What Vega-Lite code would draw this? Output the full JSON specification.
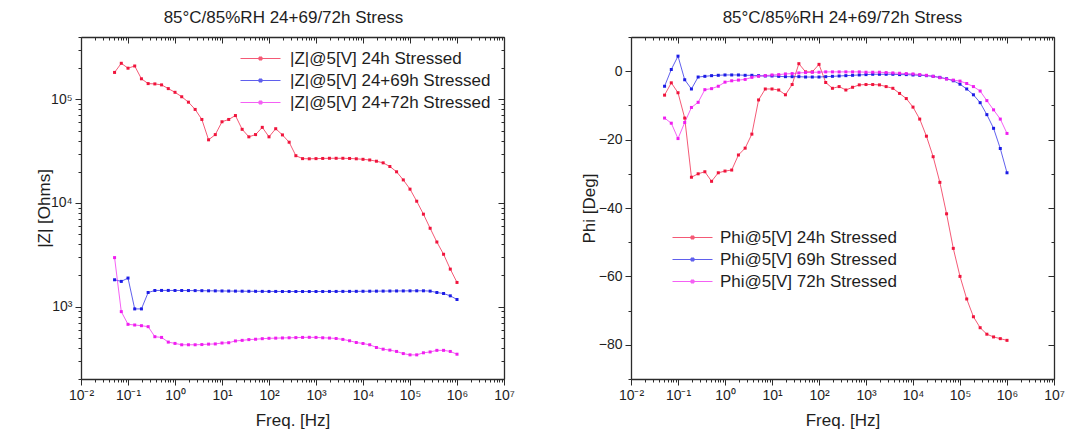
{
  "$schema": "https://vega.github.io/schema/vega-lite/v6.json",
  "padding": {"left": 35, "top": 9, "right": 4, "bottom": 2},
  "spacing": 65,
  "config": {
    "font": "Liberation Sans",
    "view": {"stroke": null},
    "axis": {
      "domainColor": "#2b2b2b", "domainWidth": 1.3,
      "tickColor": "#2b2b2b", "tickWidth": 1,
      "labelFont": "Liberation Sans", "labelFontSize": 14, "labelColor": "#1e1e1e", "labelPadding": 3,
      "titleFont": "Liberation Sans", "titleFontSize": 17, "titleFontWeight": "normal", "titleColor": "#1e1e1e",
      "grid": false, "labelOverlap": false, "labelFlush": false, "labelBound": false
    },
    "title": {"font": "Liberation Sans", "fontSize": 17, "fontWeight": "normal", "color": "#1e1e1e", "offset": 3, "frame": "group"},
    "legend": {"labelFont": "Liberation Sans", "labelFontSize": 17, "labelColor": "#1e1e1e", "labelLimit": 400}
  },
  "datasets": {
    "eis": [
      {"f":0.05179,"zr":182000,"zb":1815,"zm":2970,"pr":-7.0,"pb":-4.4,"pm":-13.7},
      {"f":0.07197,"zr":223000,"zb":1750,"zm":894,"pr":-3.4,"pb":0.5,"pm":-15.2},
      {"f":0.1,"zr":200000,"zb":1885,"zm":674,"pr":-6.3,"pb":4.4,"pm":-19.7},
      {"f":0.1389,"zr":210000,"zb":950,"zm":664,"pr":-13.7,"pb":-2.5,"pm":-15.0},
      {"f":0.1931,"zr":158000,"zb":950,"zm":654,"pr":-31.0,"pb":-5.2,"pm":-10.6},
      {"f":0.2683,"zr":142000,"zb":1367,"zm":640,"pr":-30.0,"pb":-1.7,"pm":-9.1},
      {"f":0.3728,"zr":141000,"zb":1430,"zm":512,"pr":-29.4,"pb":-1.5,"pm":-5.4},
      {"f":0.5179,"zr":138000,"zb":1432,"zm":504,"pr":-32.2,"pb":-1.3,"pm":-5.1},
      {"f":0.7197,"zr":127000,"zb":1432,"zm":454,"pr":-29.7,"pb":-1.2,"pm":-4.4},
      {"f":1,"zr":117000,"zb":1430,"zm":441,"pr":-29.2,"pb":-1.1,"pm":-3.2},
      {"f":1.389,"zr":106000,"zb":1430,"zm":428,"pr":-28.9,"pb":-1.1,"pm":-2.8},
      {"f":1.931,"zr":94000,"zb":1428,"zm":428,"pr":-24.5,"pb":-1.1,"pm":-2.6},
      {"f":2.683,"zr":80000,"zb":1426,"zm":428,"pr":-22.5,"pb":-1.2,"pm":-2.4},
      {"f":3.728,"zr":64000,"zb":1424,"zm":430,"pr":-18.4,"pb":-1.2,"pm":-1.8},
      {"f":5.179,"zr":40700,"zb":1420,"zm":434,"pr":-8.4,"pb":-1.3,"pm":-1.5},
      {"f":7.197,"zr":45700,"zb":1418,"zm":436,"pr":-5.2,"pb":-1.4,"pm":-1.3},
      {"f":10,"zr":60800,"zb":1415,"zm":445,"pr":-5.2,"pb":-1.4,"pm":-1.1},
      {"f":13.89,"zr":64000,"zb":1412,"zm":448,"pr":-5.5,"pb":-1.5,"pm":-1.0},
      {"f":19.31,"zr":69800,"zb":1410,"zm":466,"pr":-6.9,"pb":-1.6,"pm":-0.8},
      {"f":26.83,"zr":51400,"zb":1408,"zm":472,"pr":-3.9,"pb":-1.6,"pm":-0.7},
      {"f":37.28,"zr":43500,"zb":1405,"zm":480,"pr":2.2,"pb":-1.6,"pm":-0.5},
      {"f":51.79,"zr":45700,"zb":1403,"zm":484,"pr":-0.2,"pb":-1.7,"pm":-0.4},
      {"f":71.97,"zr":53700,"zb":1402,"zm":490,"pr":-0.2,"pb":-1.7,"pm":-0.3},
      {"f":100,"zr":43500,"zb":1400,"zm":494,"pr":2.0,"pb":-1.7,"pm":-0.3},
      {"f":138.9,"zr":52100,"zb":1400,"zm":496,"pr":-3.3,"pb":-1.6,"pm":-0.2},
      {"f":193.1,"zr":45400,"zb":1399,"zm":498,"pr":-5.0,"pb":-1.5,"pm":-0.2},
      {"f":268.3,"zr":38600,"zb":1398,"zm":500,"pr":-4.5,"pb":-1.4,"pm":-0.2},
      {"f":372.8,"zr":28600,"zb":1398,"zm":502,"pr":-5.5,"pb":-1.3,"pm":-0.2},
      {"f":517.9,"zr":26800,"zb":1398,"zm":504,"pr":-4.7,"pb":-1.2,"pm":-0.2},
      {"f":719.7,"zr":26700,"zb":1398,"zm":505,"pr":-4.0,"pb":-1.1,"pm":-0.2},
      {"f":1000,"zr":26800,"zb":1398,"zm":504,"pr":-3.9,"pb":-1.0,"pm":-0.3},
      {"f":1389,"zr":26900,"zb":1399,"zm":500,"pr":-3.9,"pb":-0.9,"pm":-0.3},
      {"f":1931,"zr":27000,"zb":1400,"zm":497,"pr":-4.0,"pb":-0.9,"pm":-0.3},
      {"f":2683,"zr":27000,"zb":1400,"zm":492,"pr":-4.5,"pb":-0.9,"pm":-0.4},
      {"f":3728,"zr":27000,"zb":1401,"zm":482,"pr":-5.0,"pb":-0.9,"pm":-0.5},
      {"f":5179,"zr":26900,"zb":1402,"zm":468,"pr":-6.5,"pb":-1.0,"pm":-0.6},
      {"f":7197,"zr":26700,"zb":1403,"zm":450,"pr":-8.0,"pb":-1.0,"pm":-0.7},
      {"f":10000,"zr":26400,"zb":1405,"zm":440,"pr":-10.5,"pb":-1.1,"pm":-0.8},
      {"f":13895,"zr":26000,"zb":1407,"zm":428,"pr":-14.0,"pb":-1.2,"pm":-1.0},
      {"f":19307,"zr":25300,"zb":1409,"zm":403,"pr":-19.0,"pb":-1.3,"pm":-1.2},
      {"f":26827,"zr":24400,"zb":1411,"zm":388,"pr":-25.0,"pb":-1.5,"pm":-1.5},
      {"f":37276,"zr":22500,"zb":1413,"zm":380,"pr":-32.5,"pb":-1.8,"pm":-1.9},
      {"f":51795,"zr":20000,"zb":1415,"zm":369,"pr":-41.7,"pb":-2.2,"pm":-2.3},
      {"f":71969,"zr":16700,"zb":1416,"zm":352,"pr":-51.8,"pb":-2.8,"pm":-2.6},
      {"f":100000,"zr":13600,"zb":1418,"zm":342,"pr":-60.0,"pb":-3.8,"pm":-2.9},
      {"f":138950,"zr":10400,"zb":1420,"zm":342,"pr":-66.6,"pb":-5.2,"pm":-3.6},
      {"f":193070,"zr":7800,"zb":1420,"zm":358,"pr":-71.8,"pb":-6.9,"pm":-4.5},
      {"f":268270,"zr":5700,"zb":1410,"zm":365,"pr":-75.0,"pb":-9.2,"pm":-5.8},
      {"f":372760,"zr":4200,"zb":1368,"zm":378,"pr":-76.9,"pb":-12.7,"pm":-8.6},
      {"f":517950,"zr":3200,"zb":1337,"zm":378,"pr":-77.7,"pb":-16.7,"pm":-11.3},
      {"f":719690,"zr":2300,"zb":1270,"zm":369,"pr":-78.2,"pb":-22.6,"pm":-14.0},
      {"f":1000000,"zr":1710,"zb":1170,"zm":347,"pr":-78.7,"pb":-29.7,"pm":-18.2}
    ]
  },
  "resolve": {
    "scale": {"x": "independent", "y": "independent", "color": "independent"},
    "legend": {"color": "independent"}
  },
  "hconcat": [
    {
      "width": 423,
      "height": 342,
      "title": {"text": "85°C/85%RH 24+69/72h Stress", "dx": -9},
      "data": {"name": "eis"},
      "transform": [{"fold": ["zr", "zb", "zm"], "as": ["s", "v"]}],
      "layer": [
        {
          "mark": {"type": "line", "strokeWidth": 1, "opacity": 0.7},
          "encoding": {
            "x": {
              "field": "f", "type": "quantitative",
              "scale": {"type": "log", "domain": [0.01, 10000000], "nice": false},
              "axis": {
                "orient": "bottom", "title": "Freq. [Hz]", "titlePadding": 10,
                "values": [0.01,0.02,0.03,0.04,0.05,0.06,0.07,0.08,0.09,0.1,0.2,0.3,0.4,0.5,0.6,0.7,0.8,0.9,1,2,3,4,5,6,7,8,9,10,20,30,40,50,60,70,80,90,100,200,300,400,500,600,700,800,900,1000,2000,3000,4000,5000,6000,7000,8000,9000,10000,20000,30000,40000,50000,60000,70000,80000,90000,100000,200000,300000,400000,500000,600000,700000,800000,900000,1000000,2000000,3000000,4000000,5000000,6000000,7000000,8000000,9000000,10000000],
                "labelExpr": "abs(log(datum.value)/LN10-round(log(datum.value)/LN10))<0.001 ? ['10⁻²','10⁻¹','10⁰','10¹','10²','10³','10⁴','10⁵','10⁶','10⁷'][round(log(datum.value)/LN10)+2] : ''",
                "tickSize": {"condition": {"test": "abs(log(datum.value)/LN10-round(log(datum.value)/LN10))<0.001", "value": 6}, "value": 3}
              }
            },
            "y": {
              "field": "v", "type": "quantitative",
              "scale": {"type": "log", "domain": [200, 400000], "nice": false},
              "axis": {
                "orient": "left", "title": "|Z| [Ohms]", "titlePadding": -3,
                "values": [200,300,400,500,600,700,800,900,1000,2000,3000,4000,5000,6000,7000,8000,9000,10000,20000,30000,40000,50000,60000,70000,80000,90000,100000,200000,300000,400000],
                "labelExpr": "abs(log(datum.value)/LN10-round(log(datum.value)/LN10))<0.001 ? ['10³','10⁴','10⁵'][round(log(datum.value)/LN10)-3] : ''",
                "tickSize": {"condition": {"test": "abs(log(datum.value)/LN10-round(log(datum.value)/LN10))<0.001", "value": 6}, "value": 3}
              }
            },
            "color": {
              "field": "s", "type": "nominal",
              "scale": {"domain": ["zr", "zb", "zm"], "range": ["#f0143c", "#1c1ce6", "#f01ef0"]},
              "legend": {
                "title": null, "orient": "none", "legendX": 171, "legendY": 13,
                "padding": 0, "rowPadding": 4, "labelOffset": 21,
                "symbolType": "M-4,0L4,0M-0.3,-0.3L0.3,-0.3L0.3,0.3L-0.3,0.3Z",
                "symbolSize": 100, "symbolStrokeWidth": 1,
                "labelExpr": "datum.value == 'zr' ? '|Z|@5[V] 24h Stressed' : datum.value == 'zb' ? '|Z|@5[V] 24+69h Stressed' : '|Z|@5[V] 24+72h Stressed'"
              }
            }
          }
        },
        {
          "mark": {"type": "point", "shape": "square", "filled": true, "size": 9, "opacity": 1},
          "encoding": {
            "x": {
              "field": "f", "type": "quantitative",
              "scale": {"type": "log", "domain": [0.01, 10000000], "nice": false},
              "axis": {
                "orient": "top", "title": null, "labels": false,
                "values": [0.01,0.02,0.03,0.04,0.05,0.06,0.07,0.08,0.09,0.1,0.2,0.3,0.4,0.5,0.6,0.7,0.8,0.9,1,2,3,4,5,6,7,8,9,10,20,30,40,50,60,70,80,90,100,200,300,400,500,600,700,800,900,1000,2000,3000,4000,5000,6000,7000,8000,9000,10000,20000,30000,40000,50000,60000,70000,80000,90000,100000,200000,300000,400000,500000,600000,700000,800000,900000,1000000,2000000,3000000,4000000,5000000,6000000,7000000,8000000,9000000,10000000],
                "tickSize": {"condition": {"test": "abs(log(datum.value)/LN10-round(log(datum.value)/LN10))<0.001", "value": -6}, "value": -3}
              }
            },
            "y": {
              "field": "v", "type": "quantitative",
              "scale": {"type": "log", "domain": [200, 400000], "nice": false},
              "axis": {
                "orient": "right", "title": null, "labels": false,
                "values": [200,300,400,500,600,700,800,900,1000,2000,3000,4000,5000,6000,7000,8000,9000,10000,20000,30000,40000,50000,60000,70000,80000,90000,100000,200000,300000,400000],
                "tickSize": {"condition": {"test": "abs(log(datum.value)/LN10-round(log(datum.value)/LN10))<0.001", "value": -6}, "value": -3}
              }
            },
            "color": {"field": "s", "type": "nominal", "scale": {"domain": ["zr", "zb", "zm"], "range": ["#f0143c", "#1c1ce6", "#f01ef0"]}, "legend": null}
          }
        }
      ],
      "resolve": {"axis": {"x": "independent", "y": "independent"}}
    },
    {
      "width": 423,
      "height": 342,
      "title": {"text": "85°C/85%RH 24+69/72h Stress"},
      "data": {"name": "eis"},
      "transform": [{"fold": ["pr", "pb", "pm"], "as": ["s", "v"]}],
      "layer": [
        {
          "mark": {"type": "line", "strokeWidth": 1, "opacity": 0.7},
          "encoding": {
            "x": {
              "field": "f", "type": "quantitative",
              "scale": {"type": "log", "domain": [0.01, 10000000], "nice": false},
              "axis": {
                "orient": "bottom", "title": "Freq. [Hz]", "titlePadding": 10,
                "values": [0.01,0.02,0.03,0.04,0.05,0.06,0.07,0.08,0.09,0.1,0.2,0.3,0.4,0.5,0.6,0.7,0.8,0.9,1,2,3,4,5,6,7,8,9,10,20,30,40,50,60,70,80,90,100,200,300,400,500,600,700,800,900,1000,2000,3000,4000,5000,6000,7000,8000,9000,10000,20000,30000,40000,50000,60000,70000,80000,90000,100000,200000,300000,400000,500000,600000,700000,800000,900000,1000000,2000000,3000000,4000000,5000000,6000000,7000000,8000000,9000000,10000000],
                "labelExpr": "abs(log(datum.value)/LN10-round(log(datum.value)/LN10))<0.001 ? ['10⁻²','10⁻¹','10⁰','10¹','10²','10³','10⁴','10⁵','10⁶','10⁷'][round(log(datum.value)/LN10)+2] : ''",
                "tickSize": {"condition": {"test": "abs(log(datum.value)/LN10-round(log(datum.value)/LN10))<0.001", "value": 6}, "value": 3}
              }
            },
            "y": {
              "field": "v", "type": "quantitative",
              "scale": {"domain": [-90, 10], "nice": false, "zero": false},
              "axis": {
                "orient": "left", "title": "Phi [Deg]", "titlePadding": 0,
                "values": [-90,-80,-70,-60,-50,-40,-30,-20,-10,0,10],
                "labelExpr": "datum.value % 20 == 0 ? datum.label : ''",
                "tickSize": {"condition": {"test": "datum.value % 20 == 0", "value": 6}, "value": 3}
              }
            },
            "color": {
              "field": "s", "type": "nominal",
              "scale": {"domain": ["pr", "pb", "pm"], "range": ["#f0143c", "#1c1ce6", "#f01ef0"]},
              "legend": {
                "title": null, "orient": "none", "legendX": 53, "legendY": 192,
                "padding": 0, "rowPadding": 4, "labelOffset": 19,
                "symbolType": "M-4,0L4,0M-0.3,-0.3L0.3,-0.3L0.3,0.3L-0.3,0.3Z",
                "symbolSize": 100, "symbolStrokeWidth": 1,
                "labelExpr": "datum.value == 'pr' ? 'Phi@5[V] 24h Stressed' : datum.value == 'pb' ? 'Phi@5[V] 69h Stressed' : 'Phi@5[V] 72h Stressed'"
              }
            }
          }
        },
        {
          "mark": {"type": "point", "shape": "square", "filled": true, "size": 9, "opacity": 1},
          "encoding": {
            "x": {
              "field": "f", "type": "quantitative",
              "scale": {"type": "log", "domain": [0.01, 10000000], "nice": false},
              "axis": {
                "orient": "top", "title": null, "labels": false,
                "values": [0.01,0.02,0.03,0.04,0.05,0.06,0.07,0.08,0.09,0.1,0.2,0.3,0.4,0.5,0.6,0.7,0.8,0.9,1,2,3,4,5,6,7,8,9,10,20,30,40,50,60,70,80,90,100,200,300,400,500,600,700,800,900,1000,2000,3000,4000,5000,6000,7000,8000,9000,10000,20000,30000,40000,50000,60000,70000,80000,90000,100000,200000,300000,400000,500000,600000,700000,800000,900000,1000000,2000000,3000000,4000000,5000000,6000000,7000000,8000000,9000000,10000000],
                "tickSize": {"condition": {"test": "abs(log(datum.value)/LN10-round(log(datum.value)/LN10))<0.001", "value": -6}, "value": -3}
              }
            },
            "y": {
              "field": "v", "type": "quantitative",
              "scale": {"domain": [-90, 10], "nice": false, "zero": false},
              "axis": {
                "orient": "right", "title": null, "labels": false,
                "values": [-90,-80,-70,-60,-50,-40,-30,-20,-10,0,10],
                "tickSize": {"condition": {"test": "datum.value % 20 == 0", "value": -6}, "value": -3}
              }
            },
            "color": {"field": "s", "type": "nominal", "scale": {"domain": ["pr", "pb", "pm"], "range": ["#f0143c", "#1c1ce6", "#f01ef0"]}, "legend": null}
          }
        }
      ],
      "resolve": {"axis": {"x": "independent", "y": "independent"}}
    }
  ]
}
